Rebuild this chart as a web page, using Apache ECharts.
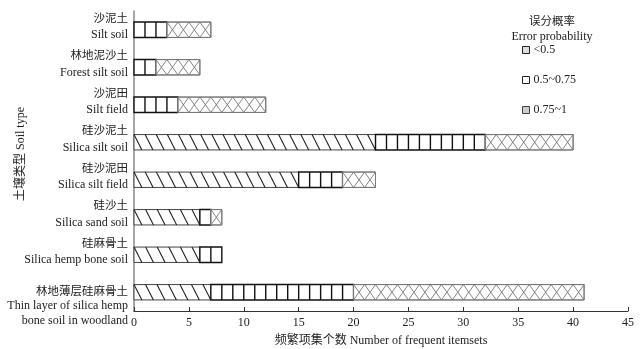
<!DOCTYPE html>
<html><head><meta charset="utf-8">
<script src="https://cdn.jsdelivr.net/npm/echarts@6/dist/echarts.min.js"></script>
<style>html,body{margin:0;padding:0;background:#fff}#c{width:643px;height:349px}</style>
</head><body><div id="c"></div>
<script>
// ---- data ----
const categoriesCN = ['沙泥土','林地泥沙土','沙泥田','硅沙泥土','硅沙泥田','硅沙土','硅麻骨土','林地薄层硅麻骨土'];
const categoriesEN = ['Silt soil','Forest silt soil','Silt field','Silica silt soil','Silica silt field','Silica sand soil','Silica hemp bone soil','Thin layer of silica hemp\nbone soil in woodland'];
const seriesNames = ['<0.5','0.5~0.75','0.75~1'];
const lowErr  = [0, 0, 0, 22, 15, 6, 6, 7];   // <0.5
const midErr  = [3, 2, 4, 10, 4, 1, 2, 13];   // 0.5~0.75
const highErr = [4, 4, 8, 8, 3, 1, 0, 21];    // 0.75~1
const xTicks = [0,5,10,15,20,25,30,35,40,45];

const FONT = "'Liberation Serif','Noto Sans CJK SC',serif";
const n = categoriesCN.length;
const seriesVals = [lowErr, midErr, highErr];

function buildData(k){
  const out=[];
  for(let i=0;i<n;i++){
    let s=0; for(let j=0;j<k;j++) s+=seriesVals[j][i];
    const v=seriesVals[k][i];
    if(v>0) out.push([s, s+v, i, v]);
  }
  return out;
}

function renderFactory(kind){
  return function(params, api){
    const s=api.value(0), e=api.value(1), cat=api.value(2), cnt=api.value(3);
    const p0=api.coord([s,cat]), p1=api.coord([e,cat]);
    const h=api.size([0,1])[1]*0.41;
    const top=p0[1]-h/2, bot=p0[1]+h/2;
    const x0=p0[0], x1=p1[0], W=x1-x0;
    const u=W/cnt;
    const children=[];
    let stroke, lw;
    if(kind===0){stroke='#444'; lw=1;}
    else if(kind===1){stroke='#111'; lw=1.4;}
    else {stroke='#777'; lw=1;}
    children.push({type:'rect',shape:{x:x0,y:top,width:W,height:h},style:{fill:'#fff',stroke:stroke,lineWidth:lw}});
    if(kind===0){
      const d=u*0.72;
      const step = cnt>1 ? (W-d)/(cnt-1) : 0;
      for(let k=0;k<cnt;k++){
        const xt=x0+k*step;
        children.push({type:'line',shape:{x1:xt,y1:top,x2:xt+d,y2:bot},style:{stroke:'#222',lineWidth:1.1}});
      }
    } else if(kind===1){
      for(let k=1;k<cnt;k++){
        const x=x0+k*u;
        children.push({type:'line',shape:{x1:x,y1:top,x2:x,y2:bot},style:{stroke:'#111',lineWidth:1.4}});
      }
    } else {
      for(let k=0;k<cnt;k++){
        const a=x0+k*u, b=a+u;
        children.push({type:'line',shape:{x1:a,y1:top,x2:b,y2:bot},style:{stroke:'#777',lineWidth:0.9}});
        children.push({type:'line',shape:{x1:a,y1:bot,x2:b,y2:top},style:{stroke:'#777',lineWidth:0.9}});
      }
      children.push({type:'rect',shape:{x:x0,y:top,width:W,height:h},style:{fill:null,stroke:'#777',lineWidth:1}});
    }
    return {type:'group',children:children};
  };
}

const yData = categoriesCN.map((c,i)=>{
  const last = i===n-1;
  return {value:String(i), textStyle:{padding: last?[29,0,0,0]:[0,0,6,0]}};
});

const chart = echarts.init(document.getElementById('c'),null,{renderer:'canvas'});
chart.setOption({
  animation:false,
  backgroundColor:'#fff',
  title:{
    text:'{cn|误分概率}\n{en|Error probability}',
    left:547, top:9, textAlign:'center',
    textStyle:{fontWeight:'normal',rich:{
      cn:{fontFamily:FONT,fontSize:11.5,fontWeight:'normal',color:'#222',lineHeight:15,align:'center'},
      en:{fontFamily:FONT,fontSize:12,fontWeight:'normal',color:'#222',lineHeight:15,align:'center'}
    }}
  },
  legend:{
    orient:'vertical', left:517, top:39, itemGap:18, itemWidth:7, itemHeight:7,
    textStyle:{fontFamily:FONT,fontSize:12,color:'#222',padding:[0,0,0,-1]},
    data:[
      {name:'<0.5',icon:'rect',itemStyle:{color:'#ddd',borderColor:'#222',borderWidth:1}},
      {name:'0.5~0.75',icon:'rect',itemStyle:{color:'#fff',borderColor:'#222',borderWidth:1}},
      {name:'0.75~1',icon:'rect',itemStyle:{color:'#ccc',borderColor:'#444',borderWidth:1}}
    ]
  },
  grid:{left:134,right:15,top:11,bottom:38,containLabel:false,outerBoundsMode:'none'},
  xAxis:{
    type:'value',min:0,max:45,interval:5,
    name:'频繁项集个数 Number of frequent itemsets',nameLocation:'middle',nameGap:24,
    nameTextStyle:{fontFamily:FONT,fontSize:12,color:'#222'},
    axisLine:{show:true,lineStyle:{color:'#333',width:1}},
    axisTick:{show:true,inside:true,length:4,lineStyle:{color:'#333'}},
    axisLabel:{fontFamily:FONT,fontSize:12,color:'#222',margin:6,
      formatter:function(v){return xTicks.indexOf(v)>=0?String(v):'';}},
    splitLine:{show:false}
  },
  yAxis:{
    type:'category',inverse:true,data:yData,
    name:'土壤类型 Soil type',nameLocation:'middle',nameGap:107,nameRotate:90,nameMoveOverlap:false,
    nameTextStyle:{fontFamily:FONT,fontSize:12,color:'#222',padding:[0,0,0,14]},
    axisLine:{show:true,lineStyle:{color:'#888',width:1.5}},
    axisTick:{show:false},
    axisLabel:{margin:6,interval:0,
      formatter:function(v){
        const i=+v;
        if(i===n-1){
          return '{cnL|'+categoriesCN[i]+'}\n'+categoriesEN[i].split('\n').map(t=>'{enL|'+t+'}').join('\n');
        }
        return '{cn|'+categoriesCN[i]+'}\n{en|'+categoriesEN[i]+'}';
      },
      rich:{
        cn:{fontFamily:FONT,fontSize:11.5,color:'#222',lineHeight:17,align:'right'},
        en:{fontFamily:FONT,fontSize:12,color:'#222',lineHeight:16,align:'right'},
        cnL:{fontFamily:FONT,fontSize:11.5,color:'#222',lineHeight:14,align:'right'},
        enL:{fontFamily:FONT,fontSize:12,color:'#222',lineHeight:15,align:'right'}
      }
    }
  },
  series:[0,1,2].map(k=>({
    type:'custom',name:seriesNames[k],
    renderItem:renderFactory(k),
    encode:{x:[0,1],y:2},
    data:buildData(k)
  }))
});
</script></body></html>
